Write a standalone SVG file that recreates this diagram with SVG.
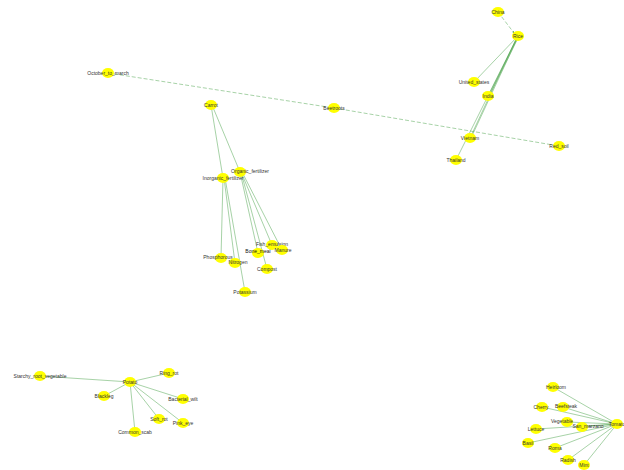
<svg xmlns="http://www.w3.org/2000/svg" width="624" height="470" viewBox="0 0 624 470">
<defs>
<style>
.n{fill:#ffff00;}
.t{font-family:"Liberation Sans",Arial,sans-serif;font-size:5px;fill:#333;text-anchor:middle;dominant-baseline:central;}
.e{stroke:#3a9a3a;stroke-width:0.6;fill:none;stroke-opacity:0.75;}
.d{stroke-dasharray:4 2;}
</style>
<marker id="a" viewBox="0 0 6 6" refX="6" refY="3" markerWidth="3" markerHeight="3" orient="auto"><path d="M0,0L6,3L0,6z" fill="#2e8b2e"/></marker>
</defs>
<rect width="624" height="470" fill="#fff"/>
<g id="edges">
<line class="e d" x1="498" y1="12" x2="514" y2="33" marker-end="url(#a)"/>
<line class="e" x1="518" y1="36" x2="474" y2="82"/>
<line class="e" x1="518" y1="36" x2="488" y2="96"/>
<line class="e" x1="519" y1="36" x2="489" y2="96"/>
<line class="e" x1="517" y1="37" x2="470" y2="138"/>
<line class="e" x1="518" y1="37" x2="471" y2="138"/>
<line class="e" x1="518" y1="36" x2="456" y2="160"/>
<line class="e d" x1="108" y1="73" x2="334" y2="108"/>
<line class="e d" x1="334" y1="108" x2="559" y2="146"/>
<line class="e" x1="211" y1="105" x2="223" y2="178"/>
<line class="e" x1="212" y1="105" x2="240" y2="172"/>
<line class="e" x1="223" y1="178" x2="221" y2="258"/>
<line class="e" x1="224" y1="178" x2="235" y2="263"/>
<line class="e" x1="225" y1="178" x2="245" y2="292"/>
<line class="e" x1="240" y1="172" x2="258" y2="253"/>
<line class="e" x1="241" y1="172" x2="267" y2="269"/>
<line class="e" x1="241" y1="172" x2="272" y2="245"/>
<line class="e" x1="242" y1="172" x2="282" y2="250"/>
<line class="e" x1="130" y1="382" x2="40" y2="376"/>
<line class="e" x1="130" y1="382" x2="169" y2="373"/>
<line class="e" x1="130" y1="382" x2="104" y2="396"/>
<line class="e" x1="130" y1="382" x2="183" y2="399"/>
<line class="e" x1="130" y1="382" x2="159" y2="419"/>
<line class="e" x1="130" y1="382" x2="183" y2="423"/>
<line class="e" x1="130" y1="382" x2="135" y2="432"/>
<line class="e" x1="617" y1="424" x2="553" y2="387"/>
<line class="e" x1="617" y1="424" x2="542" y2="407"/>
<line class="e" x1="617" y1="424" x2="563" y2="407"/>
<line class="e" x1="617" y1="424" x2="567" y2="422"/>
<line class="e" x1="617" y1="424" x2="582" y2="427"/>
<line class="e" x1="617" y1="424" x2="536" y2="429"/>
<line class="e" x1="617" y1="424" x2="528" y2="443"/>
<line class="e" x1="617" y1="424" x2="555" y2="448"/>
<line class="e" x1="617" y1="424" x2="568" y2="460"/>
<line class="e" x1="617" y1="424" x2="584" y2="465"/>
</g>
<g id="China"><ellipse class="n" cx="498" cy="12" rx="6" ry="5"/><text class="t" x="498" y="12">China</text></g>
<g id="Rice"><ellipse class="n" cx="518" cy="36" rx="6" ry="5"/><text class="t" x="518" y="36">Rice</text></g>
<g id="United_states"><ellipse class="n" cx="474" cy="82" rx="6" ry="5"/><text class="t" x="474" y="82">United_states</text></g>
<g id="India"><ellipse class="n" cx="488" cy="96" rx="6" ry="5"/><text class="t" x="488" y="96">India</text></g>
<g id="Vietnam"><ellipse class="n" cx="470" cy="138" rx="6" ry="5"/><text class="t" x="470" y="138">Vietnam</text></g>
<g id="Thailand"><ellipse class="n" cx="456" cy="160" rx="6" ry="5"/><text class="t" x="456" y="160">Thailand</text></g>
<g id="Red_soil"><ellipse class="n" cx="559" cy="146" rx="6" ry="5"/><text class="t" x="559" y="146">Red_soil</text></g>
<g id="October_to_march"><ellipse class="n" cx="108" cy="73" rx="6" ry="5"/><text class="t" x="108" y="73">October_to_march</text></g>
<g id="Carrot"><ellipse class="n" cx="211" cy="105" rx="6" ry="5"/><text class="t" x="211" y="105">Carrot</text></g>
<g id="Beetroots"><ellipse class="n" cx="334" cy="108" rx="6" ry="5"/><text class="t" x="334" y="108">Beetroots</text></g>
<g id="Organic_fertilizer"><ellipse class="n" cx="240" cy="172" rx="6" ry="5"/><text class="t" x="250" y="171">Organic_fertilizer</text></g>
<g id="Inorganic_fertilizer"><ellipse class="n" cx="223" cy="178" rx="6" ry="5"/><text class="t" x="223" y="178">Inorganic_fertilizer</text></g>
<g id="Phosphorous"><ellipse class="n" cx="221" cy="258" rx="6" ry="5"/><text class="t" x="218" y="257">Phosphorous</text></g>
<g id="Nitrogen"><ellipse class="n" cx="235" cy="263" rx="6" ry="5"/><text class="t" x="238" y="262">Nitrogen</text></g>
<g id="Potassium"><ellipse class="n" cx="245" cy="292" rx="6" ry="5"/><text class="t" x="245" y="292">Potassium</text></g>
<g id="Bone_meal"><ellipse class="n" cx="258" cy="253" rx="6" ry="5"/><text class="t" x="258" y="251" style="fill:#111">Bone_meal</text></g>
<g id="Fish_emulsion"><ellipse class="n" cx="272" cy="245" rx="6" ry="5"/><text class="t" x="272" y="244">Fish_emulsion</text></g>
<g id="Manure"><ellipse class="n" cx="282" cy="250" rx="6" ry="5"/><text class="t" x="283" y="250">Manure</text></g>
<g id="Compost"><ellipse class="n" cx="267" cy="269" rx="6" ry="5"/><text class="t" x="267" y="269">Compost</text></g>
<g id="Starchy_root_vegetable"><ellipse class="n" cx="40" cy="376" rx="6" ry="5"/><text class="t" x="40" y="376">Starchy_root_vegetable</text></g>
<g id="Potato"><ellipse class="n" cx="130" cy="382" rx="6" ry="5"/><text class="t" x="130" y="382">Potato</text></g>
<g id="Ring_rot"><ellipse class="n" cx="169" cy="373" rx="6" ry="5"/><text class="t" x="169" y="373">Ring_rot</text></g>
<g id="Blackleg"><ellipse class="n" cx="104" cy="396" rx="6" ry="5"/><text class="t" x="104" y="396">Blackleg</text></g>
<g id="Bacterial_wilt"><ellipse class="n" cx="183" cy="399" rx="6" ry="5"/><text class="t" x="183" y="399">Bacterial_wilt</text></g>
<g id="Soft_rot"><ellipse class="n" cx="159" cy="419" rx="6" ry="5"/><text class="t" x="159" y="419">Soft_rot</text></g>
<g id="Pink_eye"><ellipse class="n" cx="183" cy="423" rx="6" ry="5"/><text class="t" x="183" y="423">Pink_eye</text></g>
<g id="Common_scab"><ellipse class="n" cx="135" cy="432" rx="6" ry="5"/><text class="t" x="135" y="432">Common_scab</text></g>
<g id="Heirloom"><ellipse class="n" cx="553" cy="387" rx="6" ry="5"/><text class="t" x="556" y="387">Heirloom</text></g>
<g id="Cherry"><ellipse class="n" cx="542" cy="407" rx="6" ry="5"/><text class="t" x="541" y="407">Cherry</text></g>
<g id="Beefsteak"><ellipse class="n" cx="563" cy="407" rx="6" ry="5"/><text class="t" x="566" y="406">Beefsteak</text></g>
<g id="Vegetable"><ellipse class="n" cx="567" cy="422" rx="6" ry="5"/><text class="t" x="562" y="421">Vegetable</text></g>
<g id="San_marzano"><ellipse class="n" cx="582" cy="427" rx="6" ry="5"/><text class="t" x="588" y="426">San_marzano</text></g>
<g id="Lettuce"><ellipse class="n" cx="536" cy="429" rx="6" ry="5"/><text class="t" x="536" y="429">Lettuce</text></g>
<g id="Basil"><ellipse class="n" cx="528" cy="443" rx="6" ry="5"/><text class="t" x="528" y="443">Basil</text></g>
<g id="Roma"><ellipse class="n" cx="555" cy="448" rx="6" ry="5"/><text class="t" x="555" y="448">Roma</text></g>
<g id="Radish"><ellipse class="n" cx="568" cy="460" rx="6" ry="5"/><text class="t" x="568" y="460">Radish</text></g>
<g id="Mint"><ellipse class="n" cx="584" cy="465" rx="6" ry="5"/><text class="t" x="584" y="465">Mint</text></g>
<g id="Tomato"><ellipse class="n" cx="617" cy="424" rx="6" ry="5"/><text class="t" x="617" y="424">Tomato</text></g>
</svg>
